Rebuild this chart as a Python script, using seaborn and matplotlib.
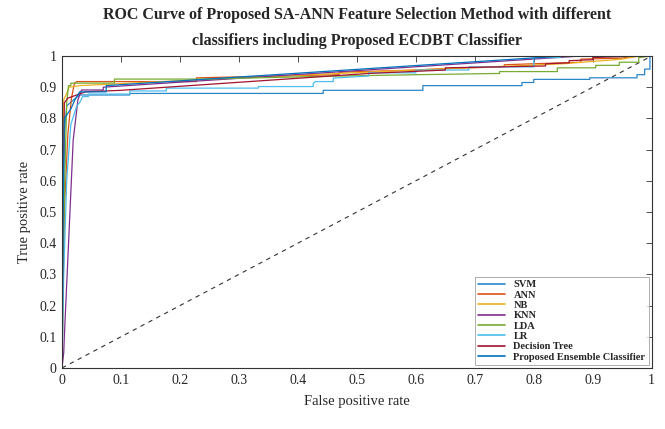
import pandas as pd
import matplotlib
matplotlib.use('Agg')
import matplotlib.pyplot as plt
import seaborn as sns
import numpy as np

# ROC points (false positive rate, true positive rate)
svm_fpr = [0, 0.002, 0.004, 0.008, 0.02, 0.03, 0.115, 0.115, 0.443, 0.443, 0.612, 0.612,
           0.78, 0.78, 0.80, 0.80, 0.895, 0.895, 0.975, 0.975, 0.988, 0.988, 0.997, 0.997, 1.0]
svm_tpr = [0, 0.50, 0.75, 0.84, 0.86, 0.875, 0.875, 0.88, 0.88, 0.89, 0.89, 0.905,
           0.905, 0.915, 0.915, 0.925, 0.925, 0.93, 0.93, 0.94, 0.94, 0.958, 0.958, 1.0, 1.0]

ann_fpr = [0, 0.004, 0.010, 0.016, 0.021, 0.025, 0.228, 0.228, 0.47, 0.47, 0.60, 0.65,
           0.75, 0.75, 0.88, 0.88, 0.95, 0.97, 1.0]
ann_tpr = [0, 0.50, 0.75, 0.864, 0.912, 0.918, 0.918, 0.93, 0.94, 0.948, 0.955, 0.96,
           0.965, 0.972, 0.98, 0.99, 0.993, 1.0, 1.0]

nb_fpr = [0, 0.002, 0.003, 0.008, 0.012, 0.03, 0.30, 0.60, 0.85, 0.95, 0.98, 1.0]
nb_tpr = [0, 0.55, 0.86, 0.88, 0.90, 0.905, 0.93, 0.955, 0.975, 0.99, 1.0, 1.0]

knn_fpr = [0, 0.003, 0.004, 0.019, 0.027, 0.033, 0.07, 0.07, 0.88, 1.0]
knn_tpr = [0, 0.05, 0.10, 0.73, 0.859, 0.891, 0.891, 0.90, 1.0, 1.0]

lda_fpr = [0, 0.004, 0.008, 0.011, 0.015, 0.015, 0.089, 0.089, 0.24, 0.45, 0.60, 0.742, 0.742,
           0.84, 0.84, 0.905, 0.905, 0.945, 0.945, 0.978, 0.978, 1.0]
lda_tpr = [0, 0.55, 0.85, 0.905, 0.905, 0.913, 0.913, 0.926, 0.926, 0.935, 0.94, 0.944, 0.95,
           0.95, 0.962, 0.962, 0.97, 0.97, 0.98, 0.98, 0.995, 1.0]

lr_fpr = [0, 0.003, 0.008, 0.015, 0.025, 0.03, 0.035, 0.045, 0.045, 0.115, 0.115, 0.177, 0.177,
          0.333, 0.333, 0.426, 0.426, 0.43, 0.46, 0.46, 0.52, 0.52, 0.60, 0.60, 0.69, 0.69,
          0.80, 0.80, 0.845, 0.845, 1.0]
lr_tpr = [0, 0.30, 0.60, 0.78, 0.84, 0.85, 0.87, 0.87, 0.878, 0.878, 0.888, 0.888, 0.897,
          0.897, 0.902, 0.902, 0.912, 0.918, 0.918, 0.929, 0.936, 0.946, 0.946, 0.955, 0.955, 0.965,
          0.965, 0.995, 0.995, 1.0, 1.0]

dt_fpr = [0, 0.002, 0.004, 0.01, 0.025, 0.04, 0.10, 0.52, 0.65, 0.65, 0.82, 0.82, 0.86, 0.86,
          0.90, 0.90, 0.98, 1.0]
dt_tpr = [0, 0.60, 0.85, 0.865, 0.875, 0.885, 0.89, 0.944, 0.955, 0.962, 0.968, 0.975, 0.978, 0.985,
          0.988, 0.995, 1.0, 1.0]

ens_fpr = [0, 0.002, 0.004, 0.015, 0.022, 0.03, 0.075, 0.075, 0.85, 1.0]
ens_tpr = [0, 0.50, 0.80, 0.83, 0.86, 0.885, 0.885, 0.905, 1.0, 1.0]

models = ['SVM', 'ANN', 'NB', 'KNN', 'LDA', 'LR', 'Decision Tree', 'Proposed Ensemble Classifier']
fprs = [svm_fpr, ann_fpr, nb_fpr, knn_fpr, lda_fpr, lr_fpr, dt_fpr, ens_fpr]
tprs = [svm_tpr, ann_tpr, nb_tpr, knn_tpr, lda_tpr, lr_tpr, dt_tpr, ens_tpr]
colors = ['#2b86c8', '#D95319', '#EDB120', '#7E2F8E', '#77AC30', '#4DBEEE', '#A2142F', '#0072BD']

ticks = [0, 0.1, 0.2, 0.3, 0.4, 0.5, 0.6, 0.7, 0.8, 0.9, 1]

# long table for seaborn
frames = []
for name, f, t in zip(models, fprs, tprs):
    frames.append(pd.DataFrame({'fpr': f, 'tpr': t, 'model': name}))
data = pd.concat(frames, ignore_index=True)

sns.set_style('white')
plt.rcParams['font.family'] = ['Liberation Serif', 'DejaVu Serif']

fig = plt.figure(figsize=(6.65, 4.29), dpi=100)
ax = fig.add_axes([0.0932, 0.1422, 0.8868, 0.7273])

# chance line
ax.plot([0, 1], [0, 1], color='#333333', linestyle=(0, (4, 4)), linewidth=0.8)

sns.lineplot(data=data, x='fpr', y='tpr', hue='model', hue_order=models,
             palette=dict(zip(models, colors)), estimator=None, sort=False,
             linewidth=0.9, ax=ax)

ax.set_xlim(0, 1)
ax.set_ylim(0, 1)
ax.set_xticks(ticks)
ax.set_yticks(ticks)
ax.set_xticklabels([f'{v:g}' for v in ticks], fontsize=10)
ax.set_yticklabels([f'{v:g}' for v in ticks], fontsize=10)
ax.tick_params(direction='in', top=True, right=True, length=4, width=0.6, color='#333333', pad=4)
for s in ax.spines.values():
    s.set_color('#333333')
    s.set_linewidth(0.8)

ax.set_xlabel('False positive rate', fontsize=10.5, labelpad=6)
ax.set_ylabel('True positive rate', fontsize=10.5, labelpad=6)
ax.set_title('ROC Curve of Proposed SA-ANN Feature Selection Method with different\n'
             'classifiers including Proposed ECDBT Classifier',
             fontsize=11.5, fontweight='bold', linespacing=1.8, pad=8)

handles, labels = ax.get_legend_handles_labels()
leg = ax.legend(handles, labels, loc='lower right', fontsize=7.5, frameon=True, fancybox=False,
                handlelength=2.6, handletextpad=0.8, labelspacing=0.1, borderpad=0.3,
                borderaxespad=0.3)
leg.get_frame().set_edgecolor('#888888')
leg.get_frame().set_linewidth(0.6)
for t in leg.get_texts():
    t.set_fontweight('bold')
for h in leg.get_lines():
    h.set_linewidth(1.2)

plt.savefig('out.png', dpi=100)
